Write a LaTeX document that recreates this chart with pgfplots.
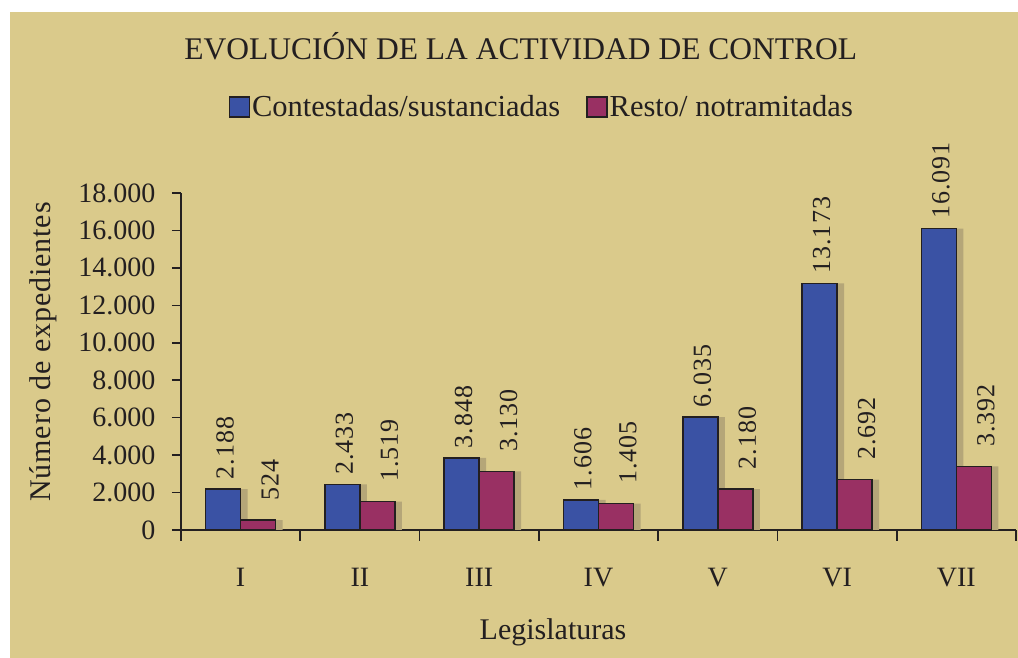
\documentclass[border=0pt]{standalone}
\usepackage{graphicx}
\usepackage{pgfplots}
\pgfplotsset{compat=1.18}
\usepackage{fontspec}
\setmainfont{Liberation Serif}
\definecolor{bg}{HTML}{DACA8B}
\definecolor{barblue}{HTML}{3A52A4}
\definecolor{barpurple}{HTML}{993063}
\definecolor{shadow}{HTML}{B5A678}
\definecolor{ink}{HTML}{231F20}
\pgfplotstableread{
x blue purple
0 2188 524
1 2433 1519
2 3848 3130
3 1606 1405
4 6035 2180
5 13173 2692
6 16091 3392
}\datatable
\begin{document}
\begin{tikzpicture}[x=1pt,y=1pt]
\path[use as bounding box] (0,0) rectangle (1018,658);
\fill[bg] (10,0) rectangle (1018,646);
\begin{axis}[
  at={(181pt,128pt)}, anchor=south west,
  scale only axis, width=835pt, height=337pt,
  xmin=-0.5, xmax=6.5, ymin=0, ymax=18000,
  clip=false,
  axis x line*=bottom, axis y line*=left,
  axis line style={ink, line width=1.6pt, -},
  /pgf/number format/.cd, 1000 sep={.}, assume math mode=true, /pgfplots/.cd,
  scaled y ticks=false,
  ytick={0,2000,...,18000},
  tick align=outside,
  major tick length=9pt,
  ytick style={ink, line width=1.6pt},
  xtick={0,...,6},
  xticklabels={I,II,III,IV,V,VI,VII},
  major x tick style={draw=none},
  minor xtick={-0.5,0.5,...,6.5},
  minor tick length=11pt,
  minor x tick style={ink, line width=1.6pt},
  tick label style={font=\fontsize{28}{30}\selectfont, text=ink},
  xticklabel style={anchor=base, yshift=-48pt},
  yticklabel style={anchor=east, xshift=-13pt},
  title={EVOLUCIÓN DE LA ACTIVIDAD DE CONTROL},
  title style={at={(axis description cs:0.407,1.418)}, anchor=center, font=\fontsize{31.5}{34}\selectfont, text=ink},
  ylabel={\addfontfeatures{LetterSpace=3}Número de expedientes},
  ylabel style={at={(axis description cs:-0.165,0.528)}, anchor=center, font=\fontsize{30}{32}\selectfont, text=ink},
  xlabel={Legislaturas},
  xlabel style={at={(axis description cs:0.4455,-0.303)}, anchor=center, font=\fontsize{30}{32}\selectfont, text=ink},
  legend columns=2,
  legend style={at={(axis description cs:0.432,1.255)}, anchor=center, draw=none, fill=none,
    font=\fontsize{30.5}{33}\selectfont, text=ink,
    /tikz/every even column/.append style={column sep=24pt}},
  legend image code/.code={\draw[#1, draw=ink, line width=1.4pt] (0pt,-10pt) rectangle (20pt,10pt);},
]
% shadows
\addplot[ybar, bar width=35pt, bar shift=-10.5pt, fill=shadow, draw=none, forget plot] table[x=x, y=blue] {\datatable};
\addplot[ybar, bar width=35pt, bar shift=24.5pt, fill=shadow, draw=none, forget plot] table[x=x, y=purple] {\datatable};
% bars
\addplot[ybar, bar width=35pt, bar shift=-17.5pt, fill=barblue, draw=ink, line width=1.5pt,
  nodes near coords={\rotatebox{90}{\addfontfeatures{LetterSpace=4}\pgfmathprintnumber\pgfplotspointmeta}},
  every node near coord/.append style={font=\fontsize{26}{28}\selectfont, text=ink, anchor=south, inner sep=0pt, xshift=-15.5pt, yshift=9pt}]
  table[x=x, y=blue] {\datatable};
\addlegendentry{Contestadas/sustanciadas}
\addplot[ybar, bar width=35pt, bar shift=17.5pt, fill=barpurple, draw=ink, line width=1.5pt,
  nodes near coords={\rotatebox{90}{\addfontfeatures{LetterSpace=4}\pgfmathprintnumber\pgfplotspointmeta}},
  every node near coord/.append style={font=\fontsize{26}{28}\selectfont, text=ink, anchor=south, inner sep=0pt, xshift=29.5pt, yshift=19pt}]
  table[x=x, y=purple] {\datatable};
\addlegendentry{Resto/ notramitadas}
\end{axis}
\end{tikzpicture}
\end{document}
